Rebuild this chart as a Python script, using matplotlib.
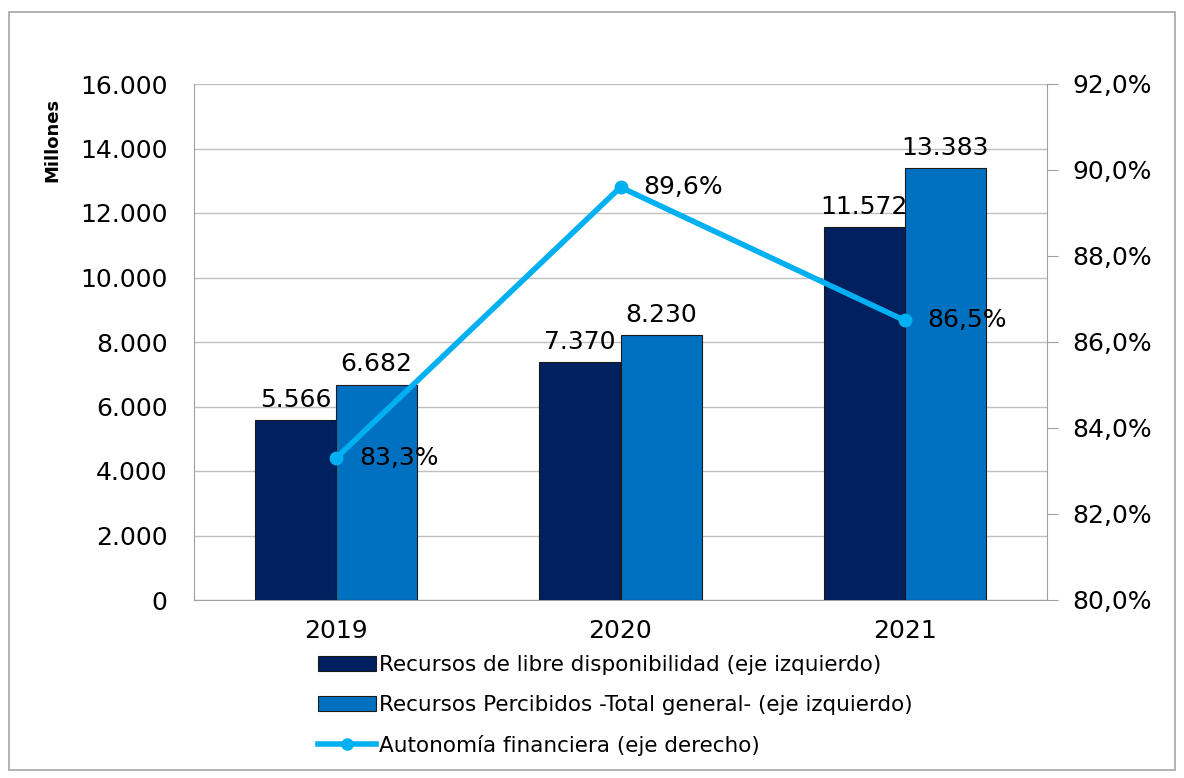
import matplotlib
matplotlib.use("Agg")
import matplotlib.pyplot as plt
from matplotlib.patches import Rectangle, Patch
from matplotlib.lines import Line2D
from matplotlib.ticker import FuncFormatter, MultipleLocator
import numpy as np

years = ["2019", "2020", "2021"]
libre = [5566, 7370, 11572]
percibidos = [6682, 8230, 13383]
autonomia = [83.3, 89.6, 86.5]

series_names = [
    "Recursos de libre disponibilidad (eje izquierdo)",
    "Recursos Percibidos -Total general- (eje izquierdo)",
    "Autonomía financiera (eje derecho)",
]

plt.rcParams['font.family'] = ['DejaVu Sans']

W, H = 1184, 778
fig = plt.figure(figsize=(W / 100, H / 100), dpi=100)
fig.patch.set_facecolor("white")

# outer border
fig.add_artist(Rectangle((9 / W, 1 - 770 / H), (1175 - 9) / W, (770 - 12) / H,
                         transform=fig.transFigure, fill=False,
                         edgecolor="#A6A6A6", linewidth=1.2))

left, right, top, bottom = 194, 1047, 84, 600
ax = fig.add_axes([left / W, 1 - bottom / H, (right - left) / W, (bottom - top) / H])

x = np.arange(len(years))
bw = 0.285
c_dark = "#002060"
c_blue = "#0070C0"
c_line = "#00B0F0"
grid_c = "#BFBFBF"
spine_c = "#A0A0A0"
fs = 18

ax.bar(x - bw / 2, libre, bw, color=c_dark, edgecolor="#1a1a1a", linewidth=0.8, zorder=3)
ax.bar(x + bw / 2, percibidos, bw, color=c_blue, edgecolor="#1a1a1a", linewidth=0.8, zorder=3)

fmt_thou = lambda v: f"{int(round(v)):,}".replace(",", ".")
for xi, v in zip(x, libre):
    ax.text(xi - bw / 2, v + 250, fmt_thou(v), ha="center", va="bottom", fontsize=fs, zorder=5)
for xi, v in zip(x, percibidos):
    ax.text(xi + bw / 2, v + 250, fmt_thou(v), ha="center", va="bottom", fontsize=fs, zorder=5)

ax.set_xlim(-0.5, 2.5)
ax.set_ylim(0, 16000)
ax.yaxis.set_major_locator(MultipleLocator(2000))
ax.yaxis.set_major_formatter(FuncFormatter(lambda v, p: fmt_thou(v)))
ax.set_xticks(x)
ax.set_xticklabels(years)
ax.tick_params(axis="both", labelsize=fs, length=0)
ax.tick_params(axis="y", pad=19)
ax.tick_params(axis="x", pad=14)
ax.grid(axis="y", color=grid_c, linewidth=1, zorder=0)
for s in ["left", "bottom"]:
    ax.spines[s].set_color(spine_c)
for s in ["top", "right"]:
    ax.spines[s].set_visible(False)

ax2 = ax.twinx()
ax2.plot(x, autonomia, color=c_line, linewidth=4, marker="o", markersize=9, zorder=6)
ax2.set_ylim(80, 92)
ax2.yaxis.set_major_locator(MultipleLocator(2))
ax2.yaxis.set_major_formatter(FuncFormatter(lambda v, p: f"{v:.1f}%".replace(".", ",")))
ax2.tick_params(axis="y", labelsize=fs, length=8, direction="out", color=spine_c, pad=10)
for s in ["top", "left", "bottom"]:
    ax2.spines[s].set_visible(False)
ax2.spines["right"].set_color(spine_c)
for xi, v in zip(x, autonomia):
    ax2.text(xi + 0.08, v, f"{v:.1f}%".replace(".", ","), ha="left", va="center",
             fontsize=fs, zorder=7)

fig.text(52 / W, 1 - 140 / H, "Millones", rotation=90, ha="center", va="center",
         fontsize=13, fontweight="bold")

handles = [
    Patch(facecolor=c_dark, edgecolor="#1a1a1a", linewidth=0.8),
    Patch(facecolor=c_blue, edgecolor="#1a1a1a", linewidth=0.8),
    Line2D([0], [0], color=c_line, linewidth=4, marker="o", markersize=8),
]
fig.legend(handles, series_names, loc="upper left",
           bbox_to_anchor=(318 / W, 1 - 655 / H), frameon=False, fontsize=15.5,
           handlelength=2.7, handleheight=0.7, handletextpad=0.15, labelspacing=0.92,
           borderaxespad=0, borderpad=0)

fig.savefig("out.png", dpi=100)
